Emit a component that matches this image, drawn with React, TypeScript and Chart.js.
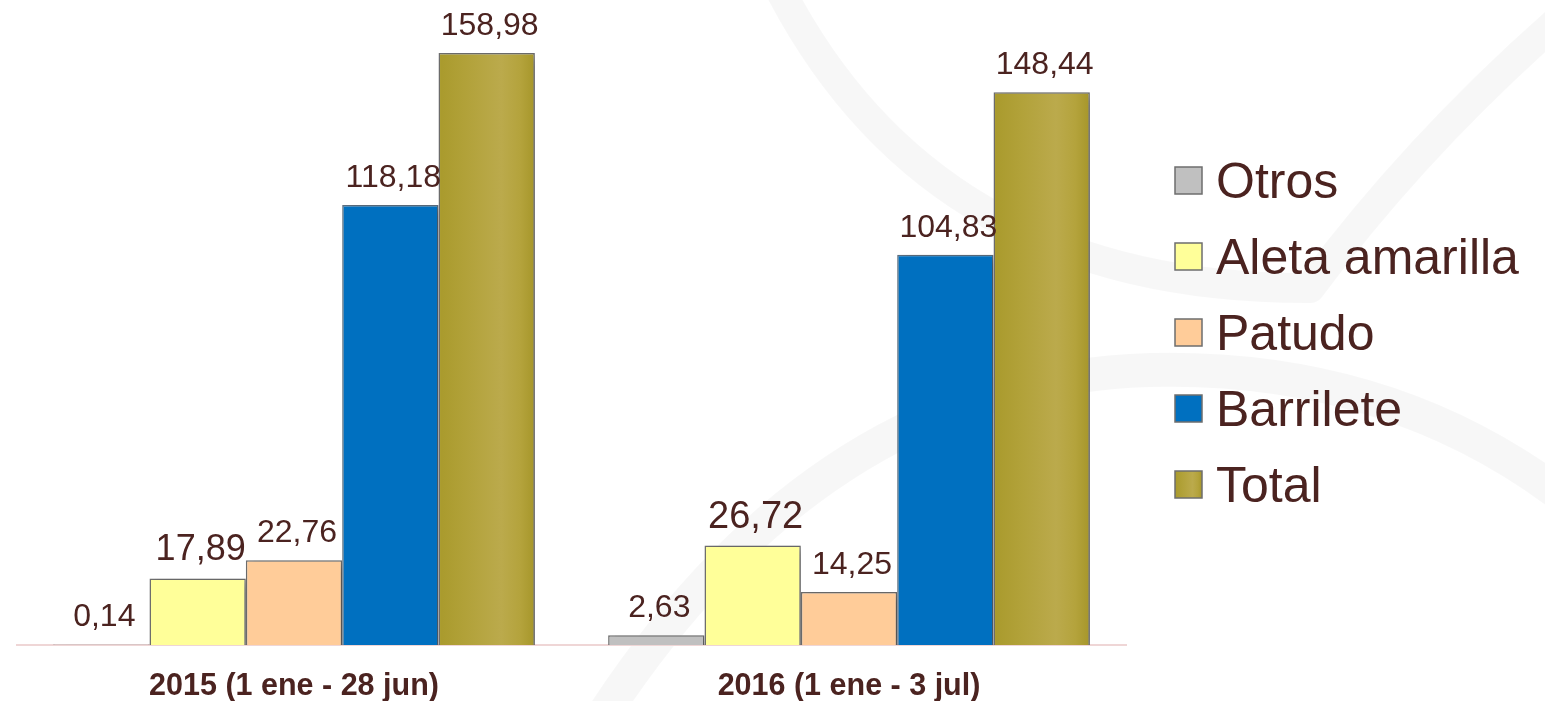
import React, { useEffect, useRef } from "react";
import { Chart, registerables } from "chart.js";

Chart.register(...registerables);

const categories = ["2015 (1 ene - 28 jun)", "2016 (1 ene - 3 jul)"];
const seriesNames = ["Otros", "Aleta amarilla", "Patudo", "Barrilete", "Total"];
const otros = [0.14, 2.63];
const aletaAmarilla = [17.89, 26.72];
const patudo = [22.76, 14.25];
const barrilete = [118.18, 104.83];
const total = [158.98, 148.44];
const labelSizes = [
  [32, 32],
  [36, 38],
  [32, 32],
  [32, 32],
  [32, 32],
];

const TEXT = "#4b2320";
const FONT = "'Liberation Sans', Arial, sans-serif";
const BORDER = "#6e6e6e";

function totalGradient(ctx: CanvasRenderingContext2D, left: number, right: number) {
  const g = ctx.createLinearGradient(left, 0, right, 0);
  g.addColorStop(0, "#a99a2c");
  g.addColorStop(0.3, "#b2a23a");
  g.addColorStop(0.65, "#bbaa4c");
  g.addColorStop(0.85, "#b4a33c");
  g.addColorStop(1, "#a6962a");
  return g;
}

const watermarkPlugin = {
  id: "watermark",
  beforeDraw(chart: any) {
    const ctx = chart.ctx;
    ctx.save();
    ctx.strokeStyle = "rgba(0,0,0,0.03)";
    ctx.lineCap = "butt";
    ctx.lineJoin = "round";
    ctx.lineWidth = 30;
    ctx.beginPath();
    ctx.moveTo(775, -20);
    ctx.quadraticCurveTo(930, 290, 1310, 288);
    ctx.quadraticCurveTo(1420, 140, 1570, 10);
    ctx.stroke();
    ctx.lineWidth = 34;
    ctx.beginPath();
    ctx.moveTo(600, 720);
    ctx.quadraticCurveTo(820, 380, 1150, 370);
    ctx.quadraticCurveTo(1400, 364, 1580, 510);
    ctx.stroke();
    ctx.restore();
  },
};

const shadowPlugin = {
  id: "barShadow",
  beforeDatasetsDraw(chart: any) {
    const ctx = chart.ctx;
    ctx.save();
    ctx.shadowColor = "rgba(0,0,0,0.28)";
    ctx.shadowBlur = 9;
    ctx.shadowOffsetX = 5;
    ctx.shadowOffsetY = 3;
  },
  afterDatasetsDraw(chart: any) {
    chart.ctx.restore();
  },
};

const labelPlugin = {
  id: "valueLabels",
  afterDatasetsDraw(chart: any) {
    const ctx = chart.ctx;
    ctx.save();
    ctx.fillStyle = TEXT;
    ctx.textAlign = "center";
    ctx.textBaseline = "alphabetic";
    chart.data.datasets.forEach((ds: any, di: number) => {
      const meta = chart.getDatasetMeta(di);
      meta.data.forEach((el: any, i: number) => {
        const v = ds.data[i] as number;
        ctx.font = `${labelSizes[di][i]}px ${FONT}`;
        ctx.fillText(v.toFixed(2).replace(".", ","), el.x + 3, el.y - 18);
      });
    });
    ctx.restore();
  },
};

const legendPlugin = {
  id: "sideLegend",
  afterDraw(chart: any) {
    const ctx = chart.ctx;
    ctx.save();
    chart.data.datasets.forEach((ds: any, di: number) => {
      const cy = 180.5 + di * 76;
      const x = 1175;
      const s = 27;
      const y = cy - s / 2;
      ctx.fillStyle = di === 4 ? totalGradient(ctx, x, x + s) : ds.legendColor;
      ctx.fillRect(x, y, s, s);
      ctx.lineWidth = 1.5;
      ctx.strokeStyle = BORDER;
      ctx.strokeRect(x, y, s, s);
      ctx.fillStyle = TEXT;
      ctx.font = `50px ${FONT}`;
      ctx.textAlign = "left";
      ctx.textBaseline = "alphabetic";
      ctx.fillText(ds.label, 1216, cy + 17.5);
    });
    ctx.restore();
  },
};

export default function App() {
  const ref = useRef<HTMLCanvasElement | null>(null);
  useEffect(() => {
    if (!ref.current) return;
    const catPct = 0.868;
    const colors = ["#c0c0c0", "#ffff99", "#ffcc99", "#0070c0", "#b3a33e"];
    const values = [otros, aletaAmarilla, patudo, barrilete, total];
    const datasets = seriesNames.map((name, di) => ({
      label: name,
      data: values[di],
      legendColor: colors[di],
      backgroundColor:
        di === 4
          ? (c: any) => {
              const chart = c.chart;
              const xs = chart.scales.x;
              if (!xs || !chart.chartArea) return colors[4];
              const n = chart.data.labels.length;
              const catW = xs.width / n;
              const barW = (catW * catPct) / seriesNames.length;
              const center = xs.getPixelForValue(c.dataIndex);
              const left = center - (catW * catPct) / 2 + 4 * barW;
              return totalGradient(chart.ctx, left, left + barW);
            }
          : colors[di],
      borderColor: di === 3 ? "#5d6f80" : BORDER,
      borderWidth: 1.5,
      barPercentage: 1,
      categoryPercentage: catPct,
    }));
    const chart = new Chart(ref.current, {
      type: "bar",
      data: { labels: categories, datasets: datasets as any },
      options: {
        animation: false,
        responsive: true,
        maintainAspectRatio: false,
        layout: { padding: { left: 16.5, right: 418.5, top: 12, bottom: 0 } },
        plugins: {
          legend: { display: false },
          tooltip: { enabled: false },
        },
        scales: {
          x: {
            grid: { display: false, drawTicks: false },
            border: { display: true, color: "#efd6d6", width: 2 },
            ticks: {
              color: TEXT,
              padding: 26,
              font: { family: FONT, size: 30.5, weight: "bold", lineHeight: 1 },
            },
            afterFit: (scale: any) => {
              scale.height = 56;
            },
          },
          y: {
            display: false,
            min: 0,
            max: 170,
          },
        },
      },
      plugins: [watermarkPlugin, shadowPlugin, labelPlugin, legendPlugin],
    });
    return () => chart.destroy();
  }, []);
  return (
    <div style={{ position: "absolute", left: 0, top: 0, width: 1545, height: 701, background: "#ffffff" }}>
      <canvas ref={ref} />
    </div>
  );
}
